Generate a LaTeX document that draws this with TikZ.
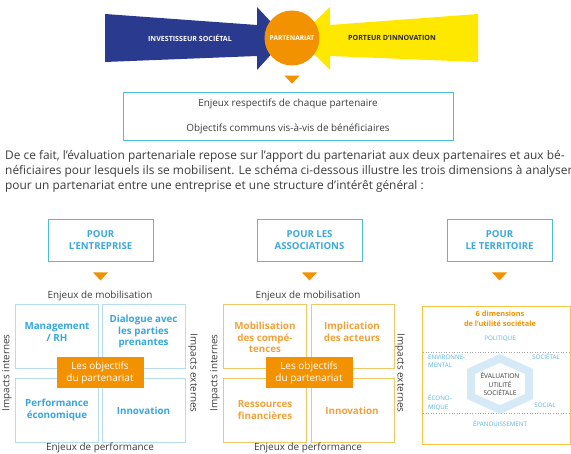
\documentclass[tikz,border=0pt]{standalone}
\usepackage{fontspec}
\setmainfont{Open Sans}
\usetikzlibrary{positioning,calc}
\definecolor{investBlue}{HTML}{2A3A8F}
\definecolor{porteurYellow}{HTML}{FFE800}
\definecolor{partOrange}{HTML}{F39200}
\definecolor{frameCyan}{HTML}{4CBFD6}
\definecolor{headBlue}{HTML}{3AA8DA}
\definecolor{entLine}{HTML}{B8DCF0}
\definecolor{entText}{HTML}{35A6DE}
\definecolor{assoLine}{HTML}{F2C766}
\definecolor{assoText}{HTML}{F2A13A}
\definecolor{terrLine}{HTML}{F5C445}
\definecolor{hexBlue}{HTML}{D5E9F6}
\definecolor{dimBlue}{HTML}{5AB3E2}
\definecolor{bodyGray}{HTML}{3C3C3C}
\tikzset{
    quad/.style = {draw, rectangle, line width=0.8pt,
        minimum width=83pt,
        minimum height=64pt},
    quadtext/.style = {align=center, inner sep=0pt,
        font=\fontsize{9.8}{11.8}\selectfont\bfseries},
    goal/.style = {rectangle, fill=partOrange, text=white,
        minimum width=87pt, minimum height=31pt, align=center,
        font=\fontsize{10}{12}\selectfont},
    header/.style = {draw=frameCyan, line width=0.9pt,
        minimum width=105pt, minimum height=42pt, align=center,
        text=headBlue, font=\fontsize{9.6}{12.5}\selectfont\bfseries},
    axis/.style = {inner sep=0pt, text=bodyGray, font=\fontsize{9.9}{12}\selectfont},
    dim/.style = {inner sep=0pt, text=dimBlue, align=left, font=\fontsize{6.2}{8.5}\selectfont},
    arrowtext/.style = {inner sep=0pt, font=\fontsize{7.1}{8}\selectfont\bfseries},
    downtip/.pic = {\fill[partOrange] (-7.5,0) -- (7.5,0) -- (0,8) -- cycle;},
}
\begin{document}
\begin{tikzpicture}[x=1pt, y=-1pt]
	\useasboundingbox (0,0) rectangle (571,454);

	% the two partners
	\fill[investBlue] (105,14) -- (257,25) -- (257,7) -- (286,38) -- (257,70) -- (257,56) -- (105,62) -- cycle;
	\fill[porteurYellow] (478,14) -- (330,25) -- (330,7) -- (298,38) -- (330,70) -- (330,56) -- (478,62) -- cycle;
	\node (partner) [circle, fill=partOrange, minimum size=55pt, inner sep=0pt, text=white, arrowtext, font=\fontsize{6.6}{8}\selectfont\bfseries] at (292,38) {PARTENARIAT};
	\node (investor) [arrowtext, text=white] at (190,38) {INVESTISSEUR SOCIÉTAL};
	\node (carrier) [arrowtext, text=black!85] at (392,38) {PORTEUR D’INNOVATION};
	\path (partner.south) ++(0,10) pic {downtip};

	\node (enjeux) [draw=frameCyan, line width=0.9pt, minimum width=330pt, minimum height=48pt, align=center,
		text=bodyGray, font=\fontsize{9.9}{12}\selectfont] at (288,116)
		{Enjeux respectifs de chaque partenaire\\[13pt]Objectifs communs vis-à-vis de bénéficiaires};

	\node (intro) [anchor=north west, align=left, inner sep=0pt, text=bodyGray, font=\fontsize{11.9}{15}\selectfont] at (5,150)
		{De ce fait, l’évaluation partenariale repose sur l’apport du partenariat aux deux partenaires et aux bé-\\
		néficiaires pour lesquels ils se mobilisent. Le schéma ci-dessous illustre les trois dimensions à analyser\\
		pour un partenariat entre une entreprise et une structure d’intérêt général :};

	% three dimensions
	\node (entHead) [header] at (100.5,240) {POUR\\L’ENTREPRISE};
	\node (assoHead) [header] at (309.5,240) {POUR LES\\ASSOCIATIONS};
	\node (terrHead) [header] at (499.5,240) {POUR\\LE TERRITOIRE};
	\path (entHead.south) ++(0,11) pic {downtip};
	\path (assoHead.south) ++(0,11) pic {downtip};
	\path (terrHead.south) ++(0,11) pic {downtip};

	% company
	\node (entTL) [quad, draw=entLine] at (56.5,336) {};
	\node (entTR) [quad, draw=entLine, right=4pt of entTL] {};
	\node (entBL) [quad, draw=entLine, below=10pt of entTL] {};
	\node (entBR) [quad, draw=entLine, right=4pt of entBL] {};
	\node (entGoal) [goal] at (100,372.5) {Les objectifs\\du partenariat};
	\node (entMgmt) [quadtext, text=entText] at (57,332) {Management\\/ RH};
	\node (entDial) [quadtext, text=entText] at (143.5,331.5) {Dialogue avec\\les parties\\prenantes};
	\node (entPerf) [quadtext, text=entText] at (57,410) {Performance\\économique};
	\node (entInno) [quadtext, text=entText] at (143.5,411) {Innovation};
	\node (entMob) [axis] at (100,296) {Enjeux de mobilisation};
	\node (entPerfAxis) [axis] at (100,447.5) {Enjeux de performance};
	\node (entInt) [axis, rotate=90] at (7,373) {Impacts internes};
	\node (entExt) [axis, rotate=-90] at (193,373) {Impacts externes};

	% associations
	\node (assoTL) [quad, draw=assoLine] at (265,336) {};
	\node (assoTR) [quad, draw=assoLine, right=4pt of assoTL] {};
	\node (assoBL) [quad, draw=assoLine, below=10pt of assoTL] {};
	\node (assoBR) [quad, draw=assoLine, right=4pt of assoBL] {};
	\node (assoGoal) [goal] at (309,372.5) {Les objectifs\\du partenariat};
	\node (assoSkills) [quadtext, text=assoText] at (265,337.5) {Mobilisation\\des compé-\\tences};
	\node (assoActors) [quadtext, text=assoText] at (352,332) {Implication\\des acteurs};
	\node (assoFunds) [quadtext, text=assoText] at (265,410) {Ressources\\financières};
	\node (assoInno) [quadtext, text=assoText] at (352,411) {Innovation};
	\node (assoMob) [axis] at (308,296) {Enjeux de mobilisation};
	\node (assoPerfAxis) [axis] at (308,447.5) {Enjeux de performance};
	\node (assoInt) [axis, rotate=90] at (215,373) {Impacts internes};
	\node (assoExt) [axis, rotate=-90] at (400,373) {Impacts externes};

	% territory
	\node (terrFrame) [draw=terrLine, line width=0.9pt, minimum width=148pt, minimum height=138pt] at (496,375) {};
	\node (terrTitle) [align=center, inner sep=0pt, text=partOrange, font=\fontsize{7.4}{9.5}\selectfont\bfseries] at (500,318.5)
		{6 dimensions\\de l’utilité sociétale};
	\draw[black!35, dotted, line width=0.6pt] (423,352) -- (569,352);
	\draw[black!35, dotted, line width=0.6pt] (423,413) -- (569,413);
	\fill[hexBlue] (500,354) -- (533,369) -- (533,399) -- (500,414) -- (467,399) -- (467,369) -- cycle;
	\fill[white] (500,363) -- (525,374) -- (525,394) -- (500,405) -- (475,394) -- (475,374) -- cycle;
	\node (evalHex) [align=center, inner sep=0pt, text=bodyGray, font=\fontsize{6.6}{8.2}\selectfont] at (500,384)
		{ÉVALUATION\\UTILITÉ\\SOCIÉTALE};
	\node (politique) [dim] at (500,339) {POLITIQUE};
	\node (environ) [dim, anchor=west] at (428,361.5) {ENVIRONNE-\\MENTAL};
	\node (societal) [dim] at (546,357) {SOCIÉTAL};
	\node (econo) [dim, anchor=west] at (428,402.5) {ÉCONO-\\MIQUE};
	\node (social) [dim] at (545,405) {SOCIAL};
	\node (epanou) [dim] at (500,424) {ÉPANOUISSEMENT};

\end{tikzpicture}
\end{document}
